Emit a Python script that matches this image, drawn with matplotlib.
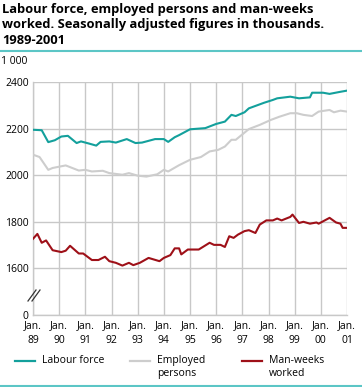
import matplotlib

matplotlib.use("Agg")
import matplotlib.pyplot as plt
from matplotlib.lines import Line2D

plt.rcParams["font.family"] = ["Open Sans", "DejaVu Sans"]

# month index counted from Jan. 1989, values in thousands
lf_month = [0, 4, 7, 10, 13, 16, 20, 22, 26, 29, 31, 35, 38, 43, 47, 50, 56, 60,
            62, 65, 67, 72, 79, 84, 88, 91, 93, 97, 99, 106, 110, 112, 118, 122,
            127, 128, 133, 136, 141, 144]
lf_value = [2195, 2193, 2142, 2150, 2166, 2169, 2138, 2145, 2135, 2127, 2143, 2145,
            2140, 2155, 2138, 2140, 2155, 2155, 2143, 2163, 2172, 2197, 2202, 2220,
            2230, 2259, 2254, 2270, 2287, 2311, 2323, 2330, 2337, 2330, 2334, 2354,
            2354, 2349, 2358, 2363]

emp_month = [0, 3, 7, 9, 15, 18, 21, 24, 27, 32, 35, 41, 44, 48, 52, 57, 60, 62,
             67, 72, 77, 81, 85, 88, 91, 93, 96, 99, 104, 109, 113, 118, 121, 124,
             128, 131, 136, 138, 141, 144]
emp_value = [2088, 2078, 2023, 2031, 2042, 2031, 2020, 2023, 2016, 2019, 2009, 2002,
             2009, 1998, 1994, 2004, 2023, 2016, 2043, 2066, 2078, 2102, 2109, 2123,
             2152, 2152, 2175, 2198, 2216, 2237, 2251, 2266, 2266, 2259, 2254, 2273,
             2280, 2270, 2277, 2273]

mw_month = [0, 2, 4, 6, 9, 13, 15, 17, 21, 23, 27, 30, 33, 35, 38, 41, 44, 46, 49,
            53, 58, 60, 63, 65, 67, 68, 71, 76, 81, 83, 86, 88, 90, 92, 94, 97, 99,
            102, 104, 107, 110, 112, 114, 118, 119, 122, 124, 127, 130, 131, 136,
            139, 141, 142, 144]
mw_value = [1727, 1748, 1710, 1720, 1678, 1670, 1676, 1697, 1664, 1664, 1636, 1636,
            1650, 1631, 1624, 1612, 1624, 1614, 1624, 1645, 1631, 1645, 1657, 1686,
            1686, 1660, 1681, 1681, 1710, 1701, 1701, 1692, 1738, 1731, 1745, 1760,
            1764, 1752, 1788, 1806, 1806, 1814, 1806, 1821, 1831, 1795, 1800, 1792,
            1797, 1792, 1817, 1797, 1792, 1774, 1774]

year_labels = ["89", "90", "91", "92", "93", "94", "95", "96", "97", "98", "99", "00", "01"]
y_ticks = [1400, 1600, 1800, 2000, 2200, 2400]
y_labels = ["0", "1600", "1800", "2000", "2200", "2400"]

TEAL = "#13a09c"
GREY = "#cdcdcd"
RED = "#9e1018"
GRID = "#c8c8c8"
RULE = "#5cc6c6"

W, H = 362, 387
fig = plt.figure(figsize=(W / 100, H / 100), dpi=100)
ax = fig.add_axes([33 / W, 1 - 315 / H, 314 / W, 233 / H])

ax.plot(emp_month, emp_value, color=GREY, lw=1.5, zorder=3)
ax.plot(lf_month, lf_value, color=TEAL, lw=1.5, zorder=4)
ax.plot(mw_month, mw_value, color=RED, lw=1.5, zorder=4)

ax.set_xlim(0, 144)
ax.set_ylim(1400, 2400)
xt = [12 * i for i in range(len(year_labels))]
ax.set_xticks(xt)
ax.set_xticklabels([f"Jan.\n{y}" for y in year_labels], fontsize=7.5, linespacing=1.4)
ax.set_yticks(y_ticks)
ax.set_yticklabels(y_labels, fontsize=7.5)
ax.tick_params(length=0, pad=3)
ax.tick_params(axis="x", pad=4)
ax.grid(True, color=GRID, lw=1.0)
ax.set_axisbelow(True)
for side in ["top", "right"]:
    ax.spines[side].set_visible(False)
for side in ["left", "bottom"]:
    ax.spines[side].set_color(GRID)
    ax.spines[side].set_linewidth(1.0)

# axis break marks
for dx in (0, 4):
    fig.add_artist(Line2D([(28 + dx) / W, (36 + dx) / W],
                          [1 - 301 / H, 1 - 290 / H], color="#333333", lw=0.9))

fig.text(1 / W, 1 - 62 / H, "1 000", fontsize=7.5, va="center", ha="left")

fig.text(2 / W, 1 - 3 / H,
         "Labour force, employed persons and man-weeks\n"
         "worked. Seasonally adjusted figures in thousands.\n1989-2001",
         fontsize=9.25, fontweight="bold", va="top", ha="left", linespacing=1.24)
fig.add_artist(Line2D([0, 1], [1 - 51 / H, 1 - 51 / H], color=RULE, lw=1.5))
fig.add_artist(Line2D([0, 1], [1 - 385.5 / H, 1 - 385.5 / H], color=RULE, lw=1.5))

# legend
legend = [(15, TEAL, "Labour force"), (130, GREY, "Employed\npersons"),
          (242, RED, "Man-weeks\nworked")]
for x0, col, label in legend:
    fig.add_artist(Line2D([x0 / W, (x0 + 20) / W], [1 - 361 / H, 1 - 361 / H],
                          color=col, lw=1.6))
    fig.text((x0 + 27) / W, 1 - 355 / H, label, fontsize=7.5, va="top", ha="left",
             linespacing=1.2)

fig.savefig("out.png", dpi=100)
